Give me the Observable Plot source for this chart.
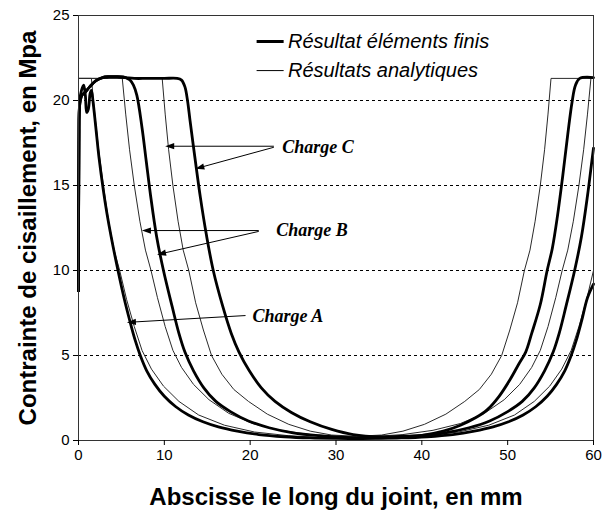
<!DOCTYPE html>
<html><head><meta charset="utf-8">
<script src="https://cdn.jsdelivr.net/npm/d3@7"></script>
<script src="https://cdn.jsdelivr.net/npm/@observablehq/plot@0.6"></script>
<style>
body{margin:0;background:#fff;}
</style></head><body><div id="chart"></div>
<script>
// Finite element results (thick curves), [abscissa mm, stress MPa]
const feA = [[0,8.8],[0.05,17.5],[0.15,20.0],[0.35,20.6],[0.6,20.9],[0.8,20.3],[0.95,19.3],[1.15,19.5],[1.35,20.4],[1.5,20.6],[1.7,19.9],[2.0,18.5],[2.4,16.6],[2.9,14.7],[3.3,13.4],[3.8,12.0],[4.6,10.0],[5.3,8.4],[6.0,7.0],[6.6,5.9],[7.2,5.0],[7.95,4.1],[8.9,3.3],[10.0,2.6],[11.3,2.0],[12.8,1.5],[14.5,1.1],[16.3,0.8],[18.5,0.55],[21,0.35],[24,0.22],[27,0.15],[30,0.12],[32.3,0.11],[34.6,0.12],[37.6,0.15],[40.6,0.22],[43.6,0.35],[46.1,0.55],[48.3,0.8],[50.1,1.1],[51.8,1.5],[53.3,2.0],[54.6,2.6],[55.7,3.3],[56.65,4.1],[57.4,5.0],[58.0,5.9],[58.6,7.0],[59.3,8.4],[60,9.2]];
const feB = [[0,8.8],[0.05,17.5],[0.15,19.8],[0.4,20.3],[0.8,20.5],[1.3,20.8],[2.0,21.15],[2.8,21.35],[3.5,21.4],[4.5,21.4],[5.5,21.35],[6.0,21.2],[6.4,20.9],[6.8,20.3],[7.4,18.4],[7.9,16.4],[8.4,14.4],[9.1,12.0],[9.9,10.0],[10.9,7.9],[11.7,6.3],[12.4,5.2],[13.4,4.1],[14.6,3.1],[16.0,2.3],[17.7,1.7],[19.8,1.15],[22.2,0.75],[25,0.45],[28,0.28],[31,0.18],[33.85,0.15],[36.7,0.18],[39.7,0.28],[42.7,0.45],[45.5,0.75],[47.9,1.15],[50.0,1.7],[51.7,2.3],[53.1,3.1],[54.3,4.1],[55.3,5.2],[56.0,6.3],[56.8,7.9],[57.8,10.0],[58.6,12.0],[59.3,14.4],[59.8,16.4],[60,17.2]];
const feC = [[0,8.8],[0.05,17.5],[0.15,19.8],[0.4,20.3],[0.8,20.5],[1.3,20.8],[2.0,21.15],[2.8,21.35],[3.5,21.4],[4.5,21.4],[5.5,21.35],[6.5,21.3],[8,21.3],[10,21.3],[11.5,21.3],[12.0,21.2],[12.4,20.8],[12.7,20.0],[13.0,18.8],[13.6,16.5],[14.2,14.3],[14.9,12.1],[15.7,10.0],[16.8,7.9],[17.8,6.3],[18.7,5.2],[19.9,4.1],[21.3,3.1],[22.9,2.3],[24.8,1.65],[27,1.1],[29.5,0.65],[32,0.35],[35.2,0.22],[38,0.25],[40,0.3],[42.5,0.55],[44.5,0.9],[46.3,1.35],[47.6,1.8],[49,2.6],[50.3,3.6],[51.3,4.5],[52.1,5.2],[52.8,6.3],[53.8,8.0],[54.6,10.0],[55.2,11.3],[55.8,13.2],[56.4,15.5],[57.0,18.0],[57.5,19.9],[57.9,20.9],[58.4,21.3],[60,21.35]];
// Analytical results (thin curves)
const anA = [[0,21.3],[1.5,21.3],[1.9,19.2],[2.35,17.1],[2.9,15.0],[3.5,12.9],[4.15,11.2],[4.8,10.0],[5.6,8.3],[6.5,6.7],[7.4,5.3],[8.5,4.2],[9.9,3.2],[11.7,2.3],[14,1.5],[17,0.9],[20.5,0.5],[24.5,0.28],[28.5,0.17],[32.4,0.14],[36.3,0.17],[40.3,0.28],[44.3,0.5],[47.8,0.9],[50.8,1.5],[53.1,2.3],[54.9,3.2],[56.3,4.2],[57.4,5.3],[58.3,6.7],[59.2,8.3],[60,10.0]];
const anB = [[0,21.3],[5.1,21.3],[5.5,19.2],[5.95,17.1],[6.5,15.0],[7.15,12.9],[7.8,11.2],[8.45,10.0],[9.2,8.4],[10.1,6.7],[11.0,5.3],[12.0,4.3],[13.4,3.3],[15.2,2.4],[17.5,1.6],[20.3,1.0],[23.5,0.6],[27,0.35],[30,0.25],[32.4,0.22],[34.8,0.25],[37.8,0.35],[41.3,0.6],[44.5,1.0],[47.3,1.6],[49.6,2.4],[51.4,3.3],[52.8,4.3],[53.8,5.3],[54.7,6.7],[55.6,8.4],[56.35,10.0],[57.0,11.2],[57.65,12.9],[58.3,15.0],[58.85,17.1],[59.3,19.2],[59.7,21.3],[60,21.3]];
const anC = [[0,21.3],[9.75,21.3],[10.1,19.2],[10.5,17.1],[11.0,15.0],[11.6,12.9],[12.2,11.2],[12.85,10.0],[13.65,8.1],[14.55,6.5],[15.5,5.0],[16.7,3.9],[18.1,3.0],[19.8,2.3],[22,1.55],[24.5,0.95],[27,0.55],[29.5,0.32],[32.4,0.25],[35.3,0.32],[37.8,0.55],[40.3,0.95],[42.8,1.55],[45,2.3],[46.7,3.0],[48.1,3.9],[49.3,5.0],[50.25,6.5],[51.15,8.1],[51.95,10.0],[52.6,11.2],[53.2,12.9],[53.8,15.0],[54.3,17.1],[54.7,19.2],[55.05,21.3],[60,21.3]];

const xTicks = [0,10,20,30,40,50,60];
const yTicks = [0,5,10,15,20,25];
const gridLevels = [5,10,15,20];
const legendLabels = ["Résultat éléments finis","Résultats analytiques"];
const chargeLabels = ["Charge C","Charge B","Charge A"];
const xTitle = "Abscisse le long du joint, en mm";
const yTitle = "Contrainte de cisaillement, en Mpa";

// annotation placement (data coordinates)
const legendAt = {x1: 20.75, x2: 23.9, xText: 24.4, y: [23.47, 21.76], widths: [3, 1]};
const chargeAt = {x: [27.9, 27.2, 24.4], y: [17.24, 12.35, 7.3]};
const arrowsAt = [
  {x1: 22.76, y1: 17.31, x2: 10.52, y2: 17.31},
  {x1: 22.76, y1: 17.25, x2: 14.02, y2: 16.04},
  {x1: 21.0, y1: 12.35, x2: 7.81, y2: 12.35},
  {x1: 21.0, y1: 12.3, x2: 9.56, y2: 10.98},
  {x1: 19.46, y1: 7.35, x2: 6.06, y2: 6.96}
];

const legendRows = legendLabels.map((t, i) => ({t, y: legendAt.y[i], w: legendAt.widths[i]}));
const chargeRows = chargeLabels.map((t, i) => ({t, x: chargeAt.x[i], y: chargeAt.y[i]}));

const px = d => d[0], py = d => d[1];
const thin = {x: px, y: py, stroke: "#2a2a2a", strokeWidth: 1, curve: "linear"};
const thick = {x: px, y: py, stroke: "black", strokeWidth: 2.8, curve: "catmull-rom", strokeLinejoin: "round"};

const chart = Plot.plot({
  width: 603,
  height: 514,
  marginLeft: 78,
  marginRight: 10,
  marginTop: 15,
  marginBottom: 74,
  style: {fontFamily: "'Liberation Sans', Arial, sans-serif", fontSize: "15px", background: "white", color: "black"},
  x: {domain: [0, 60]},
  y: {domain: [0, 25]},
  marks: [
    Plot.ruleY(gridLevels, {stroke: "black", strokeWidth: 1, strokeDasharray: "3,3"}),
    Plot.line(anA, thin),
    Plot.line(anB, thin),
    Plot.line(anC, thin),
    Plot.line(feA, thick),
    Plot.line(feB, thick),
    Plot.line(feC, thick),
    Plot.frame({stroke: "#333", strokeWidth: 1}),
    Plot.axisX(xTicks, {tickSize: 5, tickPadding: 4, fontSize: 15, label: null}),
    Plot.axisY(yTicks, {tickSize: 5, tickPadding: 4, fontSize: 15, label: null}),
    Plot.link(legendRows, {x1: () => legendAt.x1, x2: () => legendAt.x2, y1: "y", y2: "y", stroke: "black", strokeWidth: d => d.w}),
    Plot.text(legendRows, {x: () => legendAt.xText, y: "y", text: "t", textAnchor: "start", fontSize: 20, fontStyle: "italic", fill: "black"}),
    Plot.link(arrowsAt, {x1: "x1", y1: "y1", x2: "x2", y2: "y2", stroke: "black", strokeWidth: 1, markerEnd: "arrow"}),
    Plot.text(chargeRows, {x: "x", y: "y", text: "t", fontSize: 18, fontWeight: "bold", fontStyle: "italic", fontFamily: "'Liberation Serif', 'Times New Roman', serif", fill: "black"}),
    Plot.text([yTitle], {frameAnchor: "left", dx: -50, rotate: -90, textAnchor: "middle", lineAnchor: "middle", fontSize: 24, fontWeight: "bold", fill: "black"}),
    Plot.text([xTitle], {frameAnchor: "bottom", dy: 57, textAnchor: "middle", lineAnchor: "middle", fontSize: 24, fontWeight: "bold", fill: "black"})
  ]
});

// filled arrowheads
chart.querySelectorAll("marker").forEach(m => {
  m.setAttribute("fill", "black");
  m.setAttribute("stroke", "none");
  m.setAttribute("markerWidth", 12);
  m.setAttribute("markerHeight", 12);
  const p = m.querySelector("path");
  if (p) p.setAttribute("d", "M-4.5,-2.6L3,0L-4.5,2.6Z");
});

document.getElementById("chart").appendChild(chart);
</script>
</body></html>
